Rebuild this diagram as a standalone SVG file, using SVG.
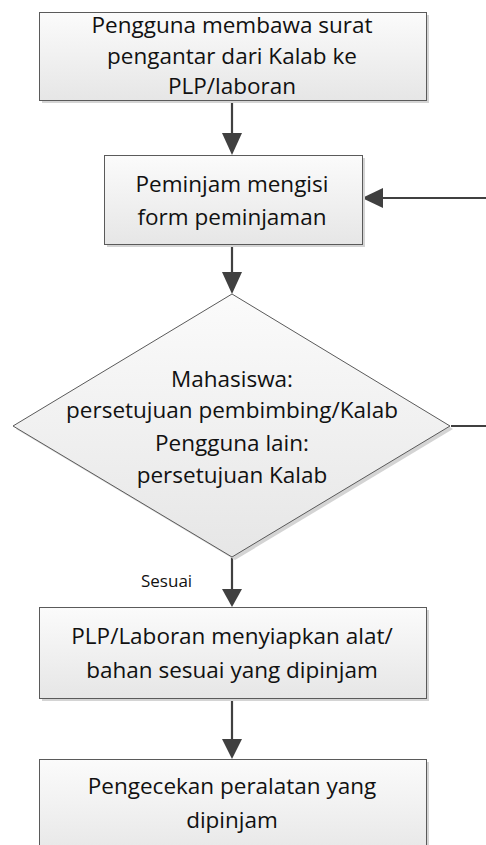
<svg xmlns="http://www.w3.org/2000/svg" width="486" height="845" viewBox="0 0 486 845">
  <defs>
    <linearGradient id="fillGrad" x1="0" y1="0" x2="0" y2="1">
      <stop offset="0" stop-color="#fbfbfb"/>
      <stop offset="1" stop-color="#e6e6e6"/>
    </linearGradient>
    <style>
      .shape { fill: url(#fillGrad); stroke: #5a5a5a; stroke-width: 1; }
      .shadow { fill: #d4d4d4; stroke: none; }
      .label { font-family: "Open Sans", "Liberation Sans", sans-serif; font-size: 22.5px; fill: #111; text-anchor: middle; }
      .small { font-family: "Open Sans", "Liberation Sans", sans-serif; font-size: 17px; fill: #111; }
      .conn { stroke: #404040; stroke-width: 2.2; fill: none; }
      .arrowhead { fill: #404040; }
    </style>
  </defs>

  <!-- connectors with their arrowheads -->
  <g id="connectors">
    <line class="conn" x1="232" y1="101" x2="232" y2="136"/>
    <polygon class="arrowhead" points="222,133 242,133 232,155"/>
    <line class="conn" x1="486" y1="198" x2="380" y2="198"/>
    <polygon class="arrowhead" points="383,188 383,208 362,198"/>
    <line class="conn" x1="232" y1="245" x2="232" y2="275"/>
    <polygon class="arrowhead" points="222,272 242,272 232,294"/>
    <line class="conn" x1="451" y1="426" x2="486" y2="426"/>
    <line class="conn" x1="232" y1="557" x2="232" y2="592"/>
    <polygon class="arrowhead" points="222,589 242,589 232,607"/>
    <line class="conn" x1="232" y1="699" x2="232" y2="742"/>
    <polygon class="arrowhead" points="222,739 242,739 232,759"/>
    <text class="small" x="141" y="587">Sesuai</text>
  </g>

  <g id="node-surat">
    <rect class="shadow" x="42" y="15" width="387" height="88"/>
    <rect class="shape" x="39.5" y="12.5" width="387" height="88"/>
    <text class="label" x="232" y="33">Pengguna membawa surat</text>
    <text class="label" x="232" y="64">pengantar dari Kalab ke</text>
    <text class="label" x="232" y="94">PLP/laboran</text>
  </g>

  <g id="node-form">
    <rect class="shadow" x="107" y="158" width="258" height="89"/>
    <rect class="shape" x="104.5" y="155.5" width="258" height="89"/>
    <text class="label" x="232" y="192">Peminjam mengisi</text>
    <text class="label" x="232" y="225">form peminjaman</text>
  </g>

  <g id="node-persetujuan">
    <polygon class="shadow" points="235,297 453,429 235,560 16,429"/>
    <polygon class="shape" points="232,294 450,426 232,557 13,426"/>
    <text class="label" x="232" y="387">Mahasiswa:</text>
    <text class="label" x="232" y="418">persetujuan pembimbing/Kalab</text>
    <text class="label" x="232" y="451">Pengguna lain:</text>
    <text class="label" x="232" y="483">persetujuan Kalab</text>
  </g>

  <g id="node-siapkan">
    <rect class="shadow" x="42" y="610" width="387" height="91"/>
    <rect class="shape" x="39.5" y="607.5" width="387" height="91"/>
    <text class="label" x="232" y="644">PLP/Laboran menyiapkan alat/</text>
    <text class="label" x="232" y="678">bahan sesuai yang dipinjam</text>
  </g>

  <g id="node-pengecekan">
    <rect class="shadow" x="42" y="762" width="387" height="100"/>
    <rect class="shape" x="39.5" y="759.5" width="387" height="100"/>
    <text class="label" x="232" y="794">Pengecekan peralatan yang</text>
    <text class="label" x="232" y="828">dipinjam</text>
  </g>
</svg>
